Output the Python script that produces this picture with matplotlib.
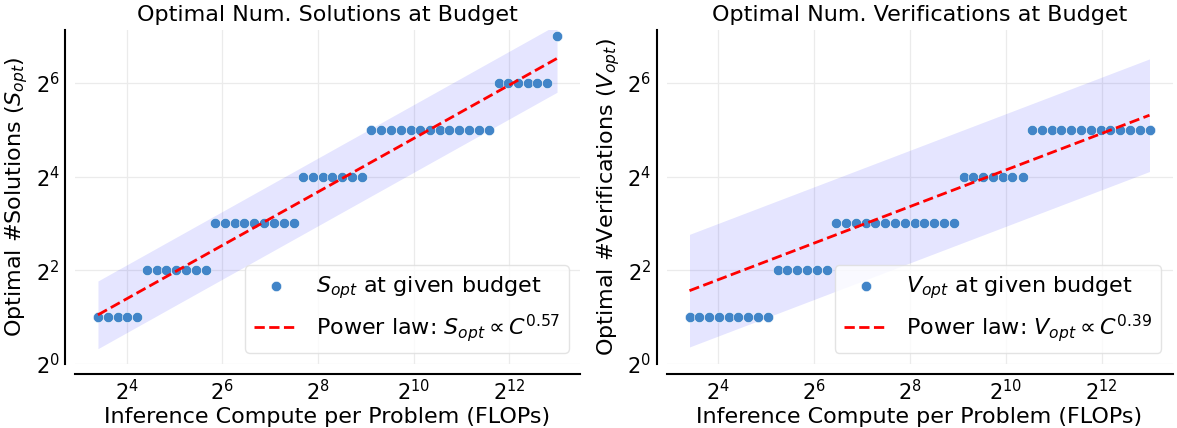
import numpy as np
import matplotlib.pyplot as plt
from matplotlib.ticker import FixedLocator, LogFormatterMathtext, NullLocator

# compute budgets (log2 of FLOPs per problem)
budget_log2 = [3.40, 3.60, 3.81, 4.01, 4.22, 4.42, 4.63, 4.83, 5.03, 5.24,
               5.44, 5.65, 5.85, 6.06, 6.26, 6.46, 6.67, 6.87, 7.08, 7.28,
               7.49, 7.69, 7.89, 8.10, 8.30, 8.51, 8.71, 8.92, 9.12, 9.32,
               9.53, 9.73, 9.94, 10.14, 10.35, 10.55, 10.75, 10.96, 11.16, 11.37,
               11.57, 11.78, 11.98, 12.18, 12.39, 12.59, 12.80, 13.00]

# optimal number of solutions at each budget
s_opt = [2, 2, 2, 2, 2,
         4, 4, 4, 4, 4, 4, 4,
         8, 8, 8, 8, 8, 8, 8, 8, 8,
         16, 16, 16, 16, 16, 16, 16,
         32, 32, 32, 32, 32, 32, 32, 32, 32, 32, 32, 32, 32,
         64, 64, 64, 64, 64, 64,
         128]

# optimal number of verifications at each budget
v_opt = [2, 2, 2, 2, 2, 2, 2, 2, 2,
         4, 4, 4, 4, 4, 4,
         8, 8, 8, 8, 8, 8, 8, 8, 8, 8, 8, 8, 8,
         16, 16, 16, 16, 16, 16, 16,
         32, 32, 32, 32, 32, 32, 32, 32, 32, 32, 32, 32, 32]

# power law fits  N = coef * C^exp, band = fit */ factor
s_coef, s_exp, s_band = 0.54, 0.57, 1.65
v_coef, v_exp, v_band = 1.18, 0.39, 2.3

flops = 2.0 ** np.array(budget_log2)

fig = plt.figure(figsize=(11.77, 4.28), dpi=100)
ax1 = fig.add_axes([75 / 1177, 64 / 428, 505 / 1177, 334.5 / 428])
ax2 = fig.add_axes([666.5 / 1177, 64 / 428, 506 / 1177, 334.5 / 428])

panels = [
    (ax1, s_opt, s_coef, s_exp, s_band, 'S', 'Solutions'),
    (ax2, v_opt, v_coef, v_exp, v_band, 'V', 'Verifications'),
]

for ax, vals, coef, expo, band, sym, name in panels:
    fit = coef * flops ** expo
    ax.fill_between(flops, fit / band, fit * band, color='blue', alpha=0.1, lw=0)
    ax.scatter(flops, vals, s=55, color='#4285c8', edgecolors='white', linewidths=0.4,
               zorder=3, label=r'$%s_{opt}$ at given budget' % sym)
    ax.plot(flops, fit, 'r--', lw=2, zorder=4,
            label=r'Power law: $%s_{opt} \propto C^{%.2f}$' % (sym, expo))

    ax.set_xscale('log', base=2)
    ax.set_yscale('log', base=2)
    ax.set_ylim(1, 128 * 1.1)
    ax.xaxis.set_major_locator(FixedLocator([2 ** 4, 2 ** 6, 2 ** 8, 2 ** 10, 2 ** 12]))
    ax.yaxis.set_major_locator(FixedLocator([2 ** 0, 2 ** 2, 2 ** 4, 2 ** 6]))
    ax.xaxis.set_major_formatter(LogFormatterMathtext(base=2))
    ax.yaxis.set_major_formatter(LogFormatterMathtext(base=2))
    ax.xaxis.set_minor_locator(NullLocator())
    ax.yaxis.set_minor_locator(NullLocator())
    ax.tick_params(length=0, labelsize=15, pad=4)

    ax.grid(True, color='#ebebeb', lw=0.9)
    ax.set_axisbelow(True)
    for side in ['top', 'right']:
        ax.spines[side].set_visible(False)
    for side in ['left', 'bottom']:
        ax.spines[side].set_position(('outward', 7))
        ax.spines[side].set_linewidth(1.5)

    ax.set_title('Optimal Num. %s at Budget' % name, fontsize=16)
    ax.set_xlabel('Inference Compute per Problem (FLOPs)', fontsize=16, labelpad=2)
    ax.set_ylabel(r'Optimal #%s ($%s_{opt}$)' % (name, sym), fontsize=16)
    ax.legend(loc='lower right', fontsize=16, frameon=True, framealpha=0.8,
              edgecolor='#dddddd', borderpad=0.4, labelspacing=0.5)

plt.savefig('out.png', dpi=100)
